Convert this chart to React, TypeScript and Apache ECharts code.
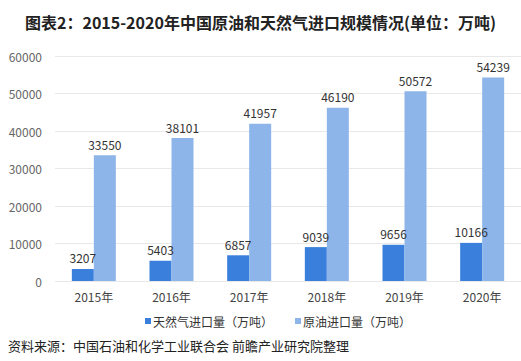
import React, { useEffect, useRef } from "react";
import * as echarts from "echarts";

const categories = ["2015年", "2016年", "2017年", "2018年", "2019年", "2020年"];
const gasValues = [3207, 5403, 6857, 9039, 9656, 10166];
const oilValues = [33550, 38101, 41957, 46190, 50572, 54239];
const seriesNames = ["天然气进口量（万吨）", "原油进口量（万吨）"];
const titleText = "图表2：2015-2020年中国原油和天然气进口规模情况(单位：万吨)";
const sourceText = "资料来源：中国石油和化学工业联合会 前瞻产业研究院整理";

const FONT = "'Noto Sans CJK SC', 'Noto Sans', sans-serif";

export default function App() {
  const ref = useRef<HTMLDivElement>(null);
  useEffect(() => {
    if (!ref.current) return;
    const chart = echarts.init(ref.current, null, { renderer: "svg" });
    chart.setOption({
      animation: false,
      backgroundColor: "#ffffff",
      textStyle: { fontFamily: FONT },
      title: {
        text: titleText,
        left: 20,
        top: 9,
        textStyle: { fontSize: 16, fontWeight: "bold", color: "#222", fontFamily: FONT },
      },
      graphic: [
        {
          type: "text",
          left: 8,
          top: 339,
          style: { text: sourceText, fontSize: 13, fill: "#222", fontFamily: FONT },
        },
      ],
      legend: {
        data: seriesNames,
        left: 140,
        top: 310,
        itemWidth: 6,
        itemHeight: 6,
        itemGap: 22,
        icon: "rect",
        textStyle: { fontSize: 12, color: "#333", fontFamily: FONT, padding: [0, 0, 0, -3] },
      },
      grid: { left: 55, right: -4, top: 56, bottom: 80, containLabel: false },
      xAxis: {
        type: "category",
        data: categories,
        axisLine: { show: false },
        axisTick: { show: false },
        axisLabel: { fontSize: 12, color: "#444", margin: 9, fontFamily: FONT },
      },
      yAxis: {
        type: "value",
        min: 0,
        max: 60000,
        interval: 10000,
        axisLine: { show: false },
        axisTick: { show: false },
        splitLine: { lineStyle: { color: "#e8e8e8" } },
        axisLabel: {
          fontSize: 12,
          color: "#666",
          margin: 13,
          fontFamily: FONT,
          formatter: (v: number) => String(v),
        },
      },
      series: [
        {
          name: seriesNames[0],
          type: "bar",
          data: gasValues,
          barWidth: 22,
          barGap: "0%",
          itemStyle: { color: "#3b7fdd" },
          label: { show: true, position: "top", fontSize: 12, color: "#333", fontFamily: FONT },
        },
        {
          name: seriesNames[1],
          type: "bar",
          data: oilValues,
          barWidth: 22,
          barGap: "0%",
          itemStyle: { color: "#8db5ea" },
          label: { show: true, position: "top", fontSize: 12, color: "#333", fontFamily: FONT },
        },
      ],
    });
    return () => chart.dispose();
  }, []);
  return <div ref={ref} style={{ width: 521, height: 361, position: "absolute", left: 0, top: 0 }} />;
}
